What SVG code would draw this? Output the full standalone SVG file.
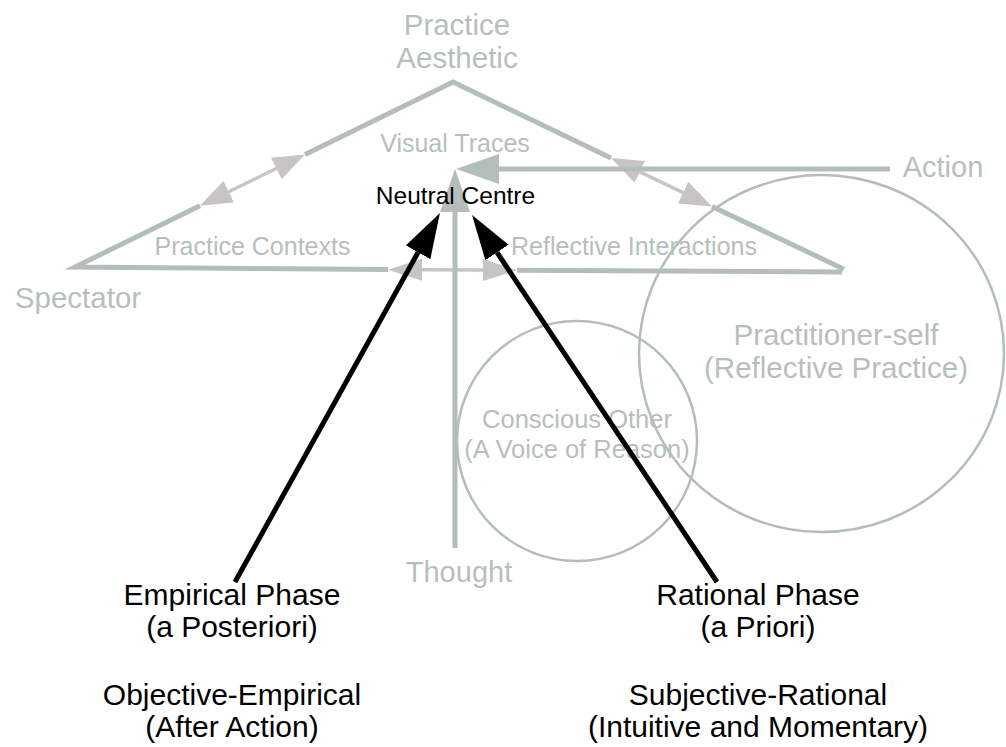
<svg xmlns="http://www.w3.org/2000/svg" width="1006" height="747" viewBox="0 0 1006 747">
<style>
text{font-family:"Liberation Sans",Arial,Helvetica,sans-serif;text-anchor:middle}
.g{fill:#b6bfbb}
.k{fill:#000}
.edge{fill:none;stroke:#b4beb9;stroke-width:5;stroke-linejoin:miter;stroke-miterlimit:10}
.pink{fill:none;stroke:#c9c4c4;stroke-width:3.5}
.ring{fill:none;stroke:#b4beb9;stroke-width:2.5}
.axis{fill:none;stroke:#b4beb9;stroke-width:5}
.blk{fill:none;stroke:#000;stroke-width:5}
</style>
<defs>
<marker id="ph" markerUnits="userSpaceOnUse" markerWidth="34" markerHeight="26" refX="0" refY="12" orient="auto-start-reverse" viewBox="0 0 34 24"><path d="M0,0 L32,12 L0,24 z" fill="#c9c4c4"/></marker>
<marker id="ph2" markerUnits="userSpaceOnUse" markerWidth="36" markerHeight="24" refX="0" refY="11" orient="auto-start-reverse" viewBox="0 0 36 22"><path d="M0,0 L34,11 L0,22 z" fill="#c9c4c4"/></marker>
<marker id="gh" markerUnits="userSpaceOnUse" markerWidth="44" markerHeight="30" refX="0" refY="15" orient="auto" viewBox="0 0 44 30"><path d="M0,0 L43,15 L0,30 z" fill="#b4beb9"/></marker>
<marker id="kh" markerUnits="userSpaceOnUse" markerWidth="46" markerHeight="28" refX="0" refY="14" orient="auto" viewBox="0 0 46 28"><path d="M0,0 L45,14 L0,28 z" fill="#000"/></marker>
</defs>

<g id="practitioner-self">
<ellipse class="ring" cx="821.5" cy="353.5" rx="182.5" ry="178.5"/>
<text class="g" x="836" y="345" font-size="29.5">Practitioner-self</text>
<text class="g" x="836" y="378" font-size="29.5">(Reflective Practice)</text>
</g>
<g id="conscious-other">
<circle class="ring" cx="577" cy="441" r="120"/>
<text class="g" x="577" y="428" font-size="25.5">Conscious Other</text>
<text class="g" x="577" y="458" font-size="25.5">(A Voice of Reason)</text>
</g>

<g id="connectors">
<polyline class="edge" points="305,154.4 453,82 611,158.1"/>
<polyline class="edge" points="200,205.8 75,267 388,269.6"/>
<line class="edge" x1="712" y1="206.4" x2="844" y2="269.2"/>
<line class="edge" x1="517" y1="270.3" x2="842" y2="272"/>
<line class="pink" x1="228.7" y1="191.7" x2="276.3" y2="168.5" marker-start="url(#ph)" marker-end="url(#ph)"/>
<line class="pink" x1="639.9" y1="171.9" x2="683.1" y2="192.6" marker-start="url(#ph)" marker-end="url(#ph)"/>
<line class="pink" x1="422" y1="269.8" x2="483" y2="270.1" marker-start="url(#ph2)" marker-end="url(#ph2)"/>
<line class="axis" x1="455" y1="548" x2="455" y2="212" marker-end="url(#gh)"/>
<line class="axis" x1="890" y1="169" x2="499" y2="169" marker-end="url(#gh)"/>
<line class="blk" x1="235" y1="582" x2="418.1" y2="252.3" marker-end="url(#kh)"/>
<line class="blk" x1="717" y1="582" x2="497" y2="252.4" marker-end="url(#kh)"/>
</g>

<g id="practice-aesthetic">
<text class="g" x="457" y="35" font-size="29.5">Practice</text>
<text class="g" x="457" y="68" font-size="29.5">Aesthetic</text>
</g>
<g id="visual-traces"><text class="g" x="455" y="152" font-size="25">Visual Traces</text></g>
<g id="neutral-centre"><text class="k" x="455.5" y="204" font-size="24.5">Neutral Centre</text></g>
<g id="practice-contexts"><text class="g" x="252.5" y="255" font-size="25">Practice Contexts</text></g>
<g id="reflective-interactions"><text class="g" x="634" y="255" font-size="25">Reflective Interactions</text></g>
<g id="spectator"><text class="g" x="78" y="308" font-size="29.5">Spectator</text></g>
<g id="action"><text class="g" x="943" y="177" font-size="29">Action</text></g>
<g id="thought"><text class="g" x="459" y="582" font-size="29">Thought</text></g>
<g id="empirical-phase">
<text class="k" x="232" y="605" font-size="30">Empirical Phase</text>
<text class="k" x="232" y="637" font-size="30">(a Posteriori)</text>
<text class="k" x="232" y="705" font-size="30">Objective-Empirical</text>
<text class="k" x="232" y="737" font-size="30">(After Action)</text>
</g>
<g id="rational-phase">
<text class="k" x="758" y="605" font-size="30">Rational Phase</text>
<text class="k" x="758" y="637" font-size="30">(a Priori)</text>
<text class="k" x="758" y="705" font-size="30">Subjective-Rational</text>
<text class="k" x="758" y="737" font-size="30">(Intuitive and Momentary)</text>
</g>
</svg>
